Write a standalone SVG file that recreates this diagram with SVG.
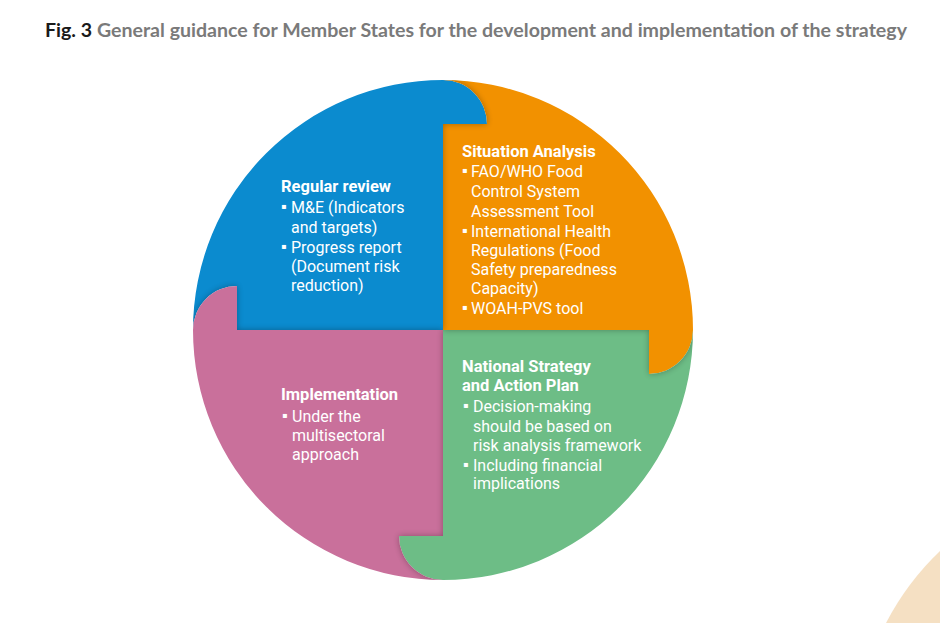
<svg xmlns="http://www.w3.org/2000/svg" width="940" height="623" viewBox="0 0 940 623">
<style>
.t{font-family:Roboto,"Liberation Sans",Arial,sans-serif;font-size:16px;fill:#fff}
.h{font-weight:bold;font-size:16.5px}
.b{font-family:"DejaVu Sans",sans-serif;font-size:8px;fill:#fff}
.ttl{font-family:Lato,"Open Sans","Liberation Sans",sans-serif;font-size:19px;font-weight:bold}
</style>
<defs>
<filter id="blur" x="-20%" y="-20%" width="140%" height="140%"><feGaussianBlur stdDeviation="3"/></filter>
<path id="pBlue" d="M443,330 L237,330 L237,286 A44,44 0 0 0 193,330 A250,250 0 0 1 443,80 A44,44 0 0 1 487,124 L443,124 Z"/>
<path id="pOrange" d="M443,330 L443,124 L487,124 A44,44 0 0 0 443,80 A250,250 0 0 1 693,330 A44,44 0 0 1 649,374 L649,330 Z"/>
<path id="pGreen" d="M443,330 L649,330 L649,374 A44,44 0 0 0 693,330 A250,250 0 0 1 443,580 A44,44 0 0 1 399,536 L443,536 Z"/>
<path id="pPink" d="M443,330 L443,536 L399,536 A44,44 0 0 0 443,580 A250,250 0 0 1 193,330 A44,44 0 0 1 237,286 L237,330 Z"/>
<clipPath id="cBlue"><use href="#pBlue"/></clipPath>
<clipPath id="cOrange"><use href="#pOrange"/></clipPath>
<clipPath id="cGreen"><use href="#pGreen"/></clipPath>
<clipPath id="cPink"><use href="#pPink"/></clipPath>
</defs>
<rect width="940" height="623" fill="#fff"/>
<path d="M940,551 A275,275 0 0 0 886,623 L940,623 Z" fill="#F5E0C3"/>
<text class="ttl" x="45" y="37" textLength="862" lengthAdjust="spacingAndGlyphs"><tspan fill="#1a1a1a">Fig. 3</tspan><tspan fill="#7a7a7a"> General guidance for Member States for the development and implementation of the strategy</tspan></text>

<g id="node-regular-review">
<use href="#pBlue" fill="#0B8BCF"/>
<g clip-path="url(#cBlue)"><use href="#pPink" fill="#000" opacity="0.3" filter="url(#blur)"/></g>
<text class="t h" x="281" y="192">Regular review</text>
<text class="b" x="281" y="209">▪</text><text class="t" x="291" y="213">M&amp;E (Indicators</text>
<text class="t" x="291" y="233">and targets)</text>
<text class="b" x="281" y="249">▪</text><text class="t" x="291" y="253">Progress report</text>
<text class="t" x="291" y="272">(Document risk</text>
<text class="t" x="291" y="291">reduction)</text>
</g>

<g id="node-situation-analysis">
<use href="#pOrange" fill="#F29100"/>
<g clip-path="url(#cOrange)"><use href="#pBlue" fill="#000" opacity="0.3" filter="url(#blur)"/></g>
<text class="t h" x="462" y="157">Situation Analysis</text>
<text class="b" x="462" y="173">▪</text><text class="t" x="471" y="177">FAO/WHO Food</text>
<text class="t" x="471" y="197">Control System</text>
<text class="t" x="471" y="217">Assessment Tool</text>
<text class="b" x="462" y="233">▪</text><text class="t" x="471" y="237">International Health</text>
<text class="t" x="471" y="256">Regulations (Food</text>
<text class="t" x="471" y="275">Safety preparedness</text>
<text class="t" x="471" y="294">Capacity)</text>
<text class="b" x="462" y="310">▪</text><text class="t" x="471" y="314">WOAH-PVS tool</text>
</g>

<g id="node-national-strategy">
<use href="#pGreen" fill="#6DBD86"/>
<g clip-path="url(#cGreen)"><use href="#pOrange" fill="#000" opacity="0.3" filter="url(#blur)"/></g>
<text class="t h" x="462" y="372">National Strategy</text>
<text class="t h" x="462" y="391">and Action Plan</text>
<text class="b" x="463" y="408">▪</text><text class="t" x="473" y="412">Decision-making</text>
<text class="t" x="473" y="432">should be based on</text>
<text class="t" x="473" y="451">risk analysis framework</text>
<text class="b" x="463" y="467">▪</text><text class="t" x="473" y="471">Including financial</text>
<text class="t" x="473" y="489">implications</text>
</g>

<g id="node-implementation">
<use href="#pPink" fill="#C9709B"/>
<g clip-path="url(#cPink)"><use href="#pGreen" fill="#000" opacity="0.3" filter="url(#blur)"/></g>
<text class="t h" x="281" y="400">Implementation</text>
<text class="b" x="282" y="418">▪</text><text class="t" x="292" y="422">Under the</text>
<text class="t" x="292" y="441">multisectoral</text>
<text class="t" x="292" y="460">approach</text>
</g>

<g id="connectors"></g>
</svg>
